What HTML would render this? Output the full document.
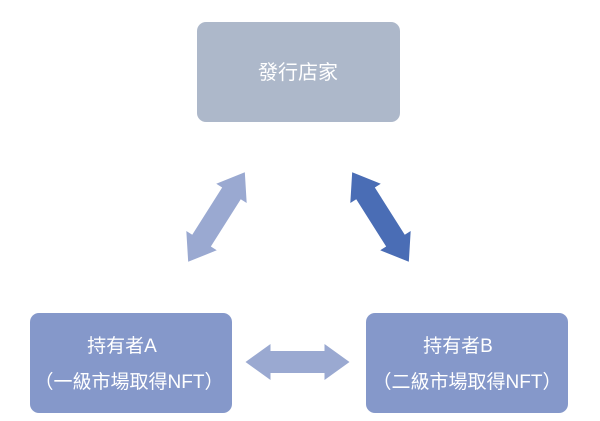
<!DOCTYPE html>
<html><head><meta charset="utf-8"><style>
html,body{margin:0;padding:0;background:#fff;width:600px;height:421px;overflow:hidden}
svg text{font-family:"Liberation Sans","Noto Sans CJK TC",sans-serif;fill:#fff}
</style></head><body>
<svg width="600" height="421" viewBox="0 0 600 421" xmlns="http://www.w3.org/2000/svg">
<rect x="197" y="22" width="203" height="100" rx="9" fill="#adb8ca"/>
<text x="298" y="79" font-size="20" text-anchor="middle">發行店家</text>
<rect x="30" y="313" width="202" height="100" rx="9" fill="#8598ca"/>
<text x="122" y="352" font-size="19" text-anchor="middle">持有者A</text>
<text x="129" y="388" font-size="19" text-anchor="middle">（一級市場取得NFT）</text>
<rect x="366" y="313" width="202" height="100" rx="9" fill="#8598ca"/>
<text x="458" y="352" font-size="19" text-anchor="middle">持有者B</text>
<text x="467" y="388" font-size="19" text-anchor="middle">（二級市場取得NFT）</text>
<polygon transform="translate(297.5,362)" fill="#9aa9d1" points="-52,0 -27,-18 -27,-11 27,-11 27,-18 52,0 27,18 27,11 -27,11 -27,18"/>
<polygon transform="translate(216.5,217) rotate(-57.7)" fill="#9aa9d1" points="-53,0 -28,-18 -28,-11 28,-11 28,-18 53,0 28,18 28,11 -28,11 -28,18"/>
<polygon transform="translate(380.5,217) rotate(57.7)" fill="#4a6db5" points="-53,0 -28,-18 -28,-11 28,-11 28,-18 53,0 28,18 28,11 -28,11 -28,18"/>
</svg>
</body></html>
